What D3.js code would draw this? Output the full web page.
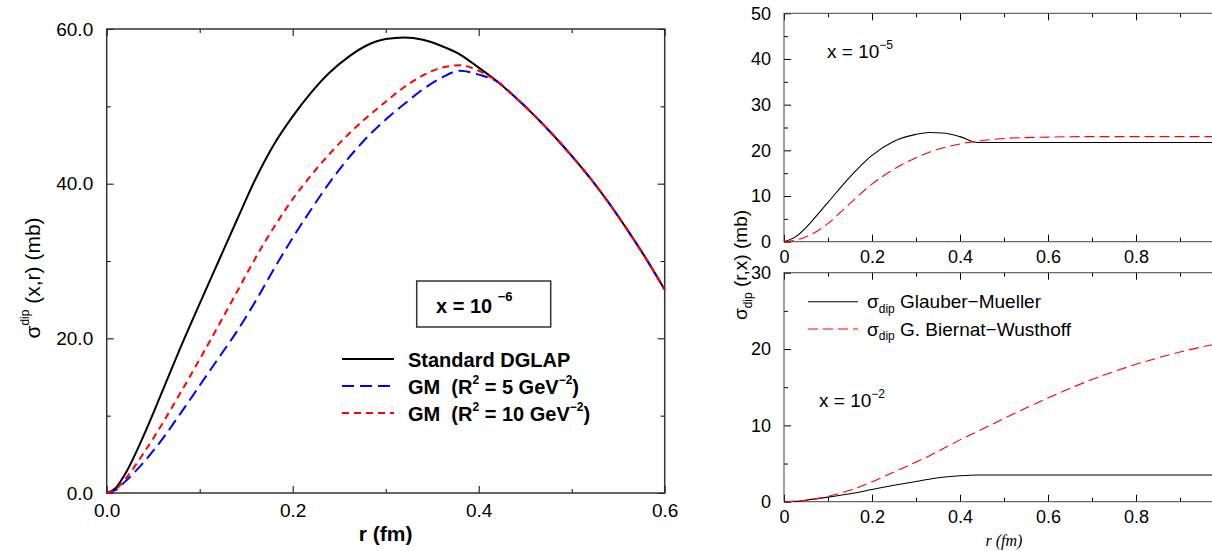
<!DOCTYPE html>
<html>
<head>
<meta charset="utf-8">
<script src="https://cdn.jsdelivr.net/npm/d3@7"></script>
<style>
  body { margin: 0; background: #fff; }
  text { font-family: "Liberation Sans", Arial, sans-serif; fill: #000; }
  .pre { white-space: pre; }
</style>
</head>
<body>
<svg id="chart" width="1212" height="551"></svg>
<script>
// left panel: x = 1e-6
const rLeft = [0, 0.01, 0.02, 0.04, 0.06, 0.08, 0.10, 0.12, 0.14, 0.16, 0.18, 0.20, 0.22, 0.24, 0.26, 0.28,
  0.30, 0.32, 0.34, 0.36, 0.38, 0.40, 0.42, 0.44, 0.46, 0.48, 0.50, 0.52, 0.54, 0.56, 0.58, 0.60];
const dglap = [0, 0.7, 2.5, 7.5, 13.2, 19.0, 24.5, 29.9, 35.3, 40.6, 45.1, 48.7, 51.8, 54.4, 56.4, 57.9,
  58.7, 58.9, 58.6, 57.8, 56.7, 55.0, 53.2, 51.1, 48.8, 46.3, 43.6, 40.7, 37.5, 34.0, 30.3, 26.3];
const gm5 = [0, 0.4, 1.5, 4.0, 7.0, 10.4, 13.9, 17.4, 20.9, 24.8, 29.0, 33.0, 36.7, 40.2, 43.3, 46.0,
  48.3, 50.3, 52.2, 53.7, 54.6, 54.1, 53.2, 51.1, 48.8, 46.3, 43.6, 40.7, 37.5, 34.0, 30.3, 26.3];
const gm10 = [0, 0.5, 1.8, 5.2, 9.0, 13.1, 17.3, 21.6, 26.0, 30.4, 34.4, 38.0, 41.1, 43.9, 46.4, 48.6,
  50.6, 52.5, 54.0, 55.0, 55.3, 54.6, 53.2, 51.1, 48.8, 46.3, 43.6, 40.7, 37.5, 34.0, 30.3, 26.3];
const leftXMajor = [0, 0.2, 0.4, 0.6];
const leftXMinor = [0.1, 0.3, 0.5];
const leftYMajor = [0, 20, 40, 60];
const leftYMinor = [10, 30, 50];

// right panels: x = 1e-5 (top), x = 1e-2 (bottom)
const rRight = [0, 0.025, 0.05, 0.075, 0.10, 0.15, 0.20, 0.25, 0.30, 0.33, 0.36, 0.40, 0.44, 0.50, 0.60, 0.70, 0.80, 0.90, 1.00];
const gmTop = [0, 1.0, 3.1, 5.8, 8.6, 14.2, 18.9, 22.0, 23.5, 23.9, 23.8, 23.0, 21.7, 21.7, 21.7, 21.7, 21.7, 21.7, 21.7];
const gbwTop = [0, 0.3, 1.1, 2.3, 4.0, 8.4, 12.6, 15.9, 18.4, 19.6, 20.5, 21.4, 22.0, 22.6, 22.9, 23.0, 23.0, 23.0, 23.0];
const gmBot = [0, 0.05, 0.2, 0.4, 0.6, 1.05, 1.6, 2.15, 2.65, 2.95, 3.2, 3.4, 3.5, 3.5, 3.5, 3.5, 3.5, 3.5, 3.5];
const gbwBot = [0, 0.05, 0.2, 0.4, 0.7, 1.5, 2.6, 3.9, 5.2, 6.0, 6.9, 8.1, 9.2, 10.9, 13.6, 16.0, 18.0, 19.6, 20.9];
const rightXMajor = [0, 0.2, 0.4, 0.6, 0.8, 1.0];
const rightXMinor = [0.1, 0.3, 0.5, 0.7, 0.9];
const topYMajor = [0, 10, 20, 30, 40, 50];
const topYMinor = [5, 15, 25, 35, 45];
const botYMajor = [0, 10, 20, 30];
const botYMinor = [5, 15, 25];

const svg = d3.select('#chart');
svg.append('rect').attr('width', 1212).attr('height', 551).attr('fill', '#fff');

let xL = d3.scaleLinear().domain([0, 0.6]).range([106.7, 664.7]);
let yL = d3.scaleLinear().domain([0, 60]).range([493, 29]);
let xR = d3.scaleLinear().domain([0, 1]).range([784, 1224]);
let yT = d3.scaleLinear().domain([0, 50]).range([241.7, 13.3]);
let yB = d3.scaleLinear().domain([0, 30]).range([501.7, 272.7]);

function drawFrame(x, y, o) {
  let g = svg.append('g');
  let [x0, x1] = x.range();
  let [y0, y1] = y.range();
  let axes = [
    [d3.axisBottom(x).tickValues(o.xMajor).tickSize(-o.major).tickPadding(o.xPad).tickFormat(o.xFmt), `translate(0,${y0})`],
    [d3.axisBottom(x).tickValues(o.xMinor).tickSize(-o.minor).tickFormat(''), `translate(0,${y0})`],
    [d3.axisTop(x).tickValues(o.xMajor).tickSize(-o.major).tickFormat(''), `translate(0,${y1})`],
    [d3.axisTop(x).tickValues(o.xMinor).tickSize(-o.minor).tickFormat(''), `translate(0,${y1})`],
    [d3.axisLeft(y).tickValues(o.yMajor).tickSize(-o.major).tickPadding(o.yPad).tickFormat(o.yFmt), `translate(${x0},0)`],
    [d3.axisLeft(y).tickValues(o.yMinor).tickSize(-o.minor).tickFormat(''), `translate(${x0},0)`],
    [d3.axisRight(y).tickValues(o.yMajor).tickSize(-o.major).tickFormat(''), `translate(${x1},0)`],
    [d3.axisRight(y).tickValues(o.yMinor).tickSize(-o.minor).tickFormat(''), `translate(${x1},0)`]
  ];
  axes.forEach(([ax, tr]) => {
    let a = g.append('g').attr('transform', tr).call(ax)
      .attr('font-size', o.fs).attr('font-family', null);
    a.select('.domain').remove();
    a.selectAll('line').attr('stroke', '#000').attr('stroke-width', 1);
  });
  g.append('rect')
    .attr('x', x0).attr('y', y1)
    .attr('width', x1 - x0).attr('height', y0 - y1)
    .attr('fill', 'none').attr('stroke', o.frameColor).attr('stroke-width', o.frameWidth);
  return g;
}

function drawLine(x, y, xs, ys, color, width, dash) {
  let line = d3.line()
    .x((d, i) => x(xs[i]))
    .y(d => y(d))
    .curve(d3.curveMonotoneX);
  svg.append('path')
    .attr('d', line(ys))
    .attr('fill', 'none')
    .attr('stroke', color)
    .attr('stroke-width', width)
    .attr('stroke-dasharray', dash || null);
}

// rich text: parts = [[text, 'n' | 'sup' | 'sub'], ...]
function richText(x, y, parts, fs, smallFs, shift, weight, rotate) {
  let t = svg.append('text')
    .attr('class', 'pre')
    .attr('x', x).attr('y', y)
    .attr('font-size', fs)
    .attr('font-weight', weight || 'normal');
  if (rotate) t.attr('transform', `rotate(-90,${x},${y})`).attr('text-anchor', 'middle');
  let cur = 0;
  parts.forEach(([s, kind]) => {
    let target = kind === 'sup' ? -shift : kind === 'sub' ? shift * 0.6 : 0;
    t.append('tspan')
      .attr('dy', target - cur)
      .attr('font-size', kind === 'n' ? fs : smallFs)
      .text(s);
    cur = target;
  });
  return t;
}

// ---------- left panel ----------
let f1 = d => d3.format('.1f')(d);
drawFrame(xL, yL, {
  xMajor: leftXMajor, xMinor: leftXMinor, yMajor: leftYMajor, yMinor: leftYMinor,
  major: 7, minor: 4, xPad: 10.5, yPad: 13.5, xFmt: f1, yFmt: f1, fs: 19,
  frameColor: '#333', frameWidth: 1.5
});

drawLine(xL, yL, rLeft, dglap, '#000', 2);
drawLine(xL, yL, rLeft, gm5, '#0000ff', 2, '12,6');
drawLine(xL, yL, rLeft, gm10, '#ff0000', 2, '7,5');

richText(40, 278, [['σ', 'n'], ['dip', 'sup'], [' (x,r) (mb)', 'n']], 21, 12, 11, 'normal', true);
svg.append('text').attr('x', 385.7).attr('y', 541).attr('text-anchor', 'middle')
  .attr('font-size', 21).attr('font-weight', 'bold').text('r (fm)');

svg.append('rect').attr('x', 416.7).attr('y', 281).attr('width', 134).attr('height', 46)
  .attr('fill', 'none').attr('stroke', '#333').attr('stroke-width', 1.5);
richText(436, 313, [['x = 10 ', 'n'], ['−6', 'sup']], 20, 13, 12, 'bold');

const legendLeft = [
  { parts: [['Standard DGLAP', 'n']], color: '#000', dash: null },
  { parts: [['GM  (R', 'n'], ['2', 'sup'], [' = 5 GeV', 'n'], ['−2', 'sup'], [')', 'n']], color: '#0000ff', dash: '12,6' },
  { parts: [['GM  (R', 'n'], ['2', 'sup'], [' = 10 GeV', 'n'], ['−2', 'sup'], [')', 'n']], color: '#ff0000', dash: '7,5' }
];
legendLeft.forEach((d, i) => {
  let y = 359 + i * 27;
  svg.append('line').attr('x1', 342).attr('x2', 394).attr('y1', y).attr('y2', y)
    .attr('stroke', d.color).attr('stroke-width', 2).attr('stroke-dasharray', d.dash);
  richText(408, y + 8, d.parts, 20, 12, 10, 'bold');
});

// ---------- right panels ----------
let fx = d => d === 0 ? '0' : d === 1 ? '' : d3.format('.1f')(d);
let fy = d3.format('d');
drawFrame(xR, yT, {
  xMajor: rightXMajor, xMinor: rightXMinor, yMajor: topYMajor, yMinor: topYMinor,
  major: 7, minor: 4, xPad: 8.5, yPad: 13, xFmt: fx, yFmt: fy, fs: 18,
  frameColor: '#444', frameWidth: 1
});
drawFrame(xR, yB, {
  xMajor: rightXMajor, xMinor: rightXMinor, yMajor: botYMajor, yMinor: botYMinor,
  major: 7, minor: 4, xPad: 8.5, yPad: 13, xFmt: fx, yFmt: fy, fs: 18,
  frameColor: '#444', frameWidth: 1
});

drawLine(xR, yT, rRight, gmTop, '#000', 1.1);
drawLine(xR, yT, rRight, gbwTop, '#ff0000', 1.1, '10,5');
drawLine(xR, yB, rRight, gmBot, '#000', 1.1);
drawLine(xR, yB, rRight, gbwBot, '#ff0000', 1.1, '10,5');

richText(827, 58, [['x = 10', 'n'], ['−5', 'sup']], 19, 12, 9, 'normal');
richText(819, 407, [['x = 10', 'n'], ['−2', 'sup']], 19, 12, 9, 'normal');

const legendRight = [
  { label: ' Glauber−Mueller', color: '#000', dash: null },
  { label: ' G. Biernat−Wusthoff', color: '#ff0000', dash: '10,5' }
];
legendRight.forEach((d, i) => {
  let y = 301.7 + i * 27.3;
  svg.append('line').attr('x1', 808).attr('x2', 858).attr('y1', y).attr('y2', y)
    .attr('stroke', d.color).attr('stroke-width', 1.1).attr('stroke-dasharray', d.dash);
  richText(867, y + 6.5, [['σ', 'n'], ['dip', 'sub'], [d.label, 'n']], 19, 12, 8, 'normal');
});

richText(747, 265, [['σ', 'n'], ['dip', 'sub'], [' (r,x) (mb)', 'n']], 19, 12, 8, 'normal', true);
svg.append('text').attr('x', 1004).attr('y', 546).attr('text-anchor', 'middle')
  .attr('font-size', 16).attr('font-style', 'italic')
  .style('font-family', '"Liberation Serif", "Times New Roman", serif')
  .text('r (fm)');
</script>
</body>
</html>
